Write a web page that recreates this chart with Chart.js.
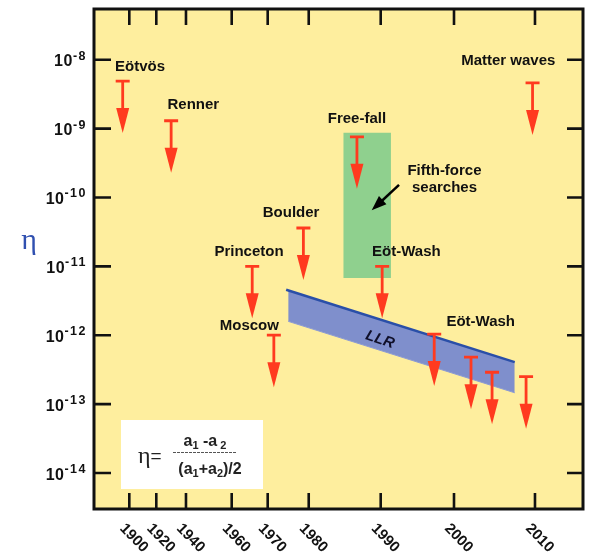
<!DOCTYPE html>
<html>
<head>
<meta charset="utf-8">
<script src="https://cdn.jsdelivr.net/npm/chart.js@4.4.0/dist/chart.umd.min.js"></script>
<style>
  html, body { margin:0; padding:0; background:#ffffff; }
  canvas { display:block; }
</style>
</head>
<body>
<canvas id="etaChart" width="590" height="554"></canvas>
<script>
/* =====================================================
   DATA
===================================================== */

// x axis is not linear in time: year ticks and where they sit (0-100 along the axis)
const tickYears   = [1900, 1920, 1940, 1960, 1970, 1980, 1990, 2000, 2010];
const tickAxisPos = [7.22, 12.74, 18.81, 28.16, 35.52, 43.91, 58.63, 73.62, 90.18];

// y axis decades (log10 of eta)
const etaDecades = [-14, -13, -12, -11, -10, -9, -8];

// upper limits (red arrows)
const limitNames = ["Eötvös", "Renner", "Princeton", "Moscow", "Boulder", "Free-fall",
                    "Eöt-Wash", "Eöt-Wash", "Eöt-Wash", "Eöt-Wash", "Eöt-Wash", "Matter waves"];
const limitYears = [1895.1, 1930.0, 1965.7, 1971.5, 1978.7, 1986.7,
                    1990.2, 1997.3, 2002.1, 2004.7, 2008.9, 2009.7];
const limitEta   = [4.9e-9, 1.3e-9, 1.0e-11, 1.0e-12, 3.6e-11, 7.6e-10,
                    1.0e-11, 1.04e-12, 4.8e-13, 2.9e-13, 2.5e-13, 4.6e-9];

// fifth-force searches (green band)
const fifthYears = [1984.8, 1991.4];
const fifthEta   = [8.7e-10, 6.8e-12];

// lunar laser ranging band
const llrTopYears    = [1974.5, 2007.5];
const llrTopEta      = [4.57e-12, 4.07e-13];
const llrBottomYears = [1975.0, 2007.5];
const llrBottomEta   = [1.59e-12, 1.46e-13];

// text notes, anchored in data coordinates
const noteTexts = ["Eötvös", "Renner", "Princeton", "Moscow", "Boulder", "Free-fall",
                   "Eöt-Wash", "Eöt-Wash", "Matter waves", "Fifth-force\nsearches"];
const noteYears = [1907.9, 1943.2, 1964.8, 1964.9, 1975.7, 1986.7,
                   1993.5, 2003.3, 2006.7, 1998.7];
const noteEta   = [7.8e-9, 2.24e-9, 1.64e-11, 1.37e-12, 6.0e-11, 1.38e-9,
                   1.64e-11, 1.58e-12, 9.46e-9, 1.84e-10];

const pointerYears = [1992.5, 1988.75];
const pointerEta   = [1.52e-10, 6.5e-11];

const llrNoteYear = 1989.9;
const llrNoteEta  = 8.6e-13;


/* =====================================================
   HELPERS
===================================================== */

const RED    = "#ff3a1f";
const YELLOW = "#feee9e";
const FONT   = '"Liberation Sans", Arial, sans-serif';

function axisX(year){
  let i = 0;
  while(i < tickYears.length - 2 && year > tickYears[i + 1]) i++;
  const y0 = tickYears[i], y1 = tickYears[i + 1];
  const p0 = tickAxisPos[i], p1 = tickAxisPos[i + 1];
  return p0 + (year - y0) * (p1 - p0) / (y1 - y0);
}

function points(years, values){
  return years.map((yr, i) => ({ x: axisX(yr), y: values[i] }));
}

// draw a row of text runs: [text, font, dy, spacing]
function drawRuns(ctx, runs, x, y, align){
  let total = 0;
  runs.forEach(r => {
    ctx.font = r[1];
    ctx.letterSpacing = r[3] || "0px";
    total += ctx.measureText(r[0]).width;
  });
  let cx = align === "right" ? x - total : align === "center" ? x - total / 2 : x;
  ctx.textAlign = "left";
  runs.forEach(r => {
    ctx.font = r[1];
    ctx.letterSpacing = r[3] || "0px";
    ctx.fillText(r[0], cx, y + (r[2] || 0));
    cx += ctx.measureText(r[0]).width;
  });
  ctx.letterSpacing = "0px";
}


/* =====================================================
   PLUGINS
===================================================== */

const backgroundPlugin = {
  id: "background",
  beforeDraw(chart){
    const { ctx, chartArea: a } = chart;
    ctx.save();
    ctx.fillStyle = YELLOW;
    ctx.fillRect(a.left, a.top, a.right - a.left, a.bottom - a.top);
    ctx.restore();
  }
};

const arrowsPlugin = {
  id: "limitArrows",
  afterDatasetsDraw(chart){
    const ctx = chart.ctx;
    const meta = chart.getDatasetMeta(3);
    ctx.save();
    meta.data.forEach(pt => {
      const x = pt.x, y = pt.y;
      ctx.strokeStyle = RED;
      ctx.lineWidth = 2.8;
      ctx.beginPath();
      ctx.moveTo(x - 7, y); ctx.lineTo(x + 7, y);
      ctx.moveTo(x, y);     ctx.lineTo(x, y + 30);
      ctx.stroke();
      ctx.fillStyle = RED;
      ctx.beginPath();
      ctx.moveTo(x - 6.5, y + 27);
      ctx.lineTo(x + 6.5, y + 27);
      ctx.lineTo(x, y + 52);
      ctx.closePath();
      ctx.fill();
    });
    ctx.restore();
  }
};

const decorPlugin = {
  id: "decor",
  afterDraw(chart){
    const { ctx, chartArea: a } = chart;
    const xs = chart.scales.x, ys = chart.scales.y;
    ctx.save();

    // notes
    ctx.fillStyle = "#111111";
    ctx.font = "bold 15px " + FONT;
    ctx.textAlign = "center";
    ctx.textBaseline = "middle";
    noteTexts.forEach((t, i) => {
      const px = xs.getPixelForValue(axisX(noteYears[i]));
      const py = ys.getPixelForValue(noteEta[i]);
      const lines = t.split("\n");
      lines.forEach((ln, k) => {
        ctx.fillText(ln, px, py + (k - (lines.length - 1) / 2) * 17.5);
      });
    });

    // LLR note
    ctx.save();
    ctx.translate(xs.getPixelForValue(axisX(llrNoteYear)), ys.getPixelForValue(llrNoteEta));
    ctx.rotate(19 * Math.PI / 180);
    ctx.font = "italic bold 15px " + FONT;
    ctx.fillStyle = "#10102a";
    ctx.fillText("LLR", 0, 0);
    ctx.restore();

    // pointer to the green band
    const tx = xs.getPixelForValue(axisX(pointerYears[0]));
    const ty = ys.getPixelForValue(pointerEta[0]);
    const hx = xs.getPixelForValue(axisX(pointerYears[1]));
    const hy = ys.getPixelForValue(pointerEta[1]);
    const ang = Math.atan2(hy - ty, hx - tx);
    ctx.strokeStyle = "#000000";
    ctx.fillStyle = "#000000";
    ctx.lineWidth = 2.5;
    ctx.beginPath();
    ctx.moveTo(tx, ty);
    ctx.lineTo(hx - 10 * Math.cos(ang), hy - 10 * Math.sin(ang));
    ctx.stroke();
    ctx.beginPath();
    ctx.moveTo(hx, hy);
    ctx.lineTo(hx - 15 * Math.cos(ang) + 5.5 * Math.sin(ang), hy - 15 * Math.sin(ang) - 5.5 * Math.cos(ang));
    ctx.lineTo(hx - 15 * Math.cos(ang) - 5.5 * Math.sin(ang), hy - 15 * Math.sin(ang) + 5.5 * Math.cos(ang));
    ctx.closePath();
    ctx.fill();

    // formula box
    ctx.fillStyle = "#ffffff";
    ctx.fillRect(121, 420, 142, 69);
    ctx.fillStyle = "#222222";
    ctx.textBaseline = "alphabetic";
    drawRuns(ctx, [["η", '24px "Liberation Serif", serif', 0], ["=", "19px " + FONT, -1]], 138, 463, "left");
    drawRuns(ctx, [
      ["a", "bold 16px " + FONT, 0], ["1", "bold 11px " + FONT, 3],
      [" -a", "bold 16px " + FONT, 0], [" 2", "bold 11px " + FONT, 3]
    ], 205, 446, "center");
    ctx.strokeStyle = "#555555";
    ctx.lineWidth = 1;
    ctx.setLineDash([3, 1]);
    ctx.beginPath();
    ctx.moveTo(173, 452.5); ctx.lineTo(236, 452.5);
    ctx.stroke();
    ctx.setLineDash([]);
    drawRuns(ctx, [
      ["(a", "bold 16px " + FONT, 0], ["1", "bold 11px " + FONT, 3],
      ["+a", "bold 16px " + FONT, 0], ["2", "bold 11px " + FONT, 3],
      [")/2", "bold 16px " + FONT, 0]
    ], 210, 474, "center");

    // frame
    ctx.strokeStyle = "#111111";
    ctx.lineWidth = 3;
    ctx.strokeRect(a.left, a.top, a.right - a.left, a.bottom - a.top);

    // inward ticks
    ctx.lineWidth = 2.6;
    ctx.beginPath();
    etaDecades.forEach(d => {
      const py = ys.getPixelForValue(Math.pow(10, d));
      ctx.moveTo(a.left, py);  ctx.lineTo(a.left + 17, py);
      ctx.moveTo(a.right, py); ctx.lineTo(a.right - 16, py);
    });
    tickYears.forEach(yr => {
      const px = xs.getPixelForValue(axisX(yr));
      ctx.moveTo(px, a.top);    ctx.lineTo(px, a.top + 16);
      ctx.moveTo(px, a.bottom); ctx.lineTo(px, a.bottom - 16);
    });
    ctx.stroke();

    // y tick labels 10^n
    ctx.fillStyle = "#111111";
    ctx.textBaseline = "alphabetic";
    etaDecades.forEach(d => {
      const py = ys.getPixelForValue(Math.pow(10, d));
      drawRuns(ctx, [
        ["10", "bold 16px " + FONT, 0, "0.5px"],
        [String(d), "bold 12.5px " + FONT, -6.7, "1.5px"]
      ], 87, py + 6.7, "right");
    });

    // x tick labels, rotated
    ctx.font = "bold 15px " + FONT;
    ctx.textAlign = "left";
    ctx.textBaseline = "middle";
    tickYears.forEach(yr => {
      const px = xs.getPixelForValue(axisX(yr));
      ctx.save();
      ctx.translate(px - 7, a.bottom + 17);
      ctx.rotate(46 * Math.PI / 180);
      ctx.fillText(String(yr), 0, 0);
      ctx.restore();
    });

    // axis title
    ctx.fillStyle = "#3050b0";
    ctx.font = '30px "Liberation Serif", serif';
    ctx.textAlign = "center";
    ctx.textBaseline = "middle";
    ctx.fillText("η", 29, 241);

    ctx.restore();
  }
};


/* =====================================================
   CHART
===================================================== */

const chart = new Chart(document.getElementById("etaChart"), {

  type: "line",

  data: {
    datasets: [
      {
        label: "Fifth-force searches",
        data: points(fifthYears, [fifthEta[0], fifthEta[0]]),
        fill: { value: fifthEta[1] },
        backgroundColor: "#8fd08e",
        borderWidth: 0,
        pointRadius: 0
      },
      {
        label: "LLR top",
        data: points(llrTopYears, llrTopEta),
        borderColor: "#2a4fa8",
        borderWidth: 2.5,
        fill: false,
        pointRadius: 0
      },
      {
        label: "LLR",
        data: points(llrBottomYears, llrBottomEta),
        borderColor: "#8c9bd4",
        borderWidth: 1,
        backgroundColor: "#7f8fcc",
        fill: "-1",
        pointRadius: 0
      },
      {
        label: "Limits",
        data: points(limitYears, limitEta),
        showLine: false,
        pointRadius: 0
      }
    ]
  },

  options: {
    responsive: false,
    animation: false,
    layout: {
      padding: { left: 94, top: 9, right: 7, bottom: 45 }
    },
    plugins: {
      legend: { display: false },
      tooltip: { enabled: false }
    },
    scales: {
      x: {
        type: "linear",
        min: 0,
        max: 100,
        display: false
      },
      y: {
        type: "logarithmic",
        min: Math.pow(10, -14.476),
        max: Math.pow(10, -7.264),
        display: false
      }
    }
  },

  plugins: [backgroundPlugin, arrowsPlugin, decorPlugin]

});
</script>
</body>
</html>
